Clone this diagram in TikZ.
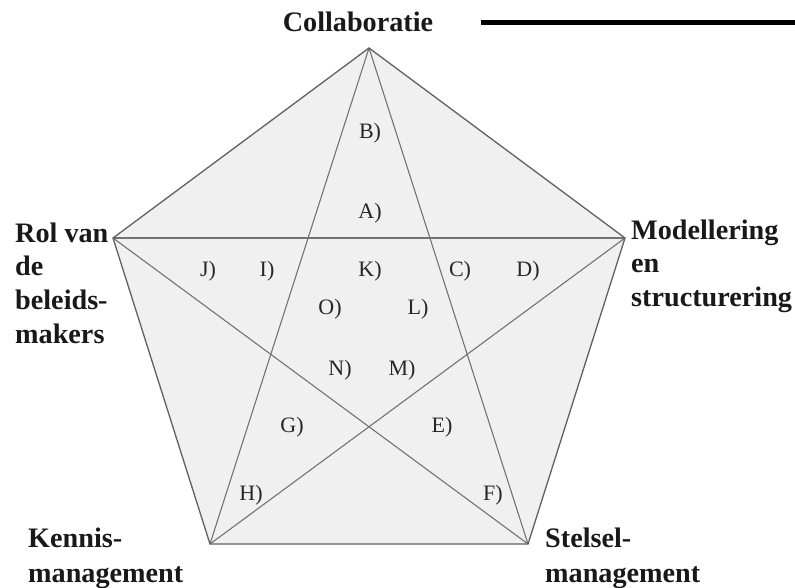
\documentclass[tikz,border=0pt]{standalone}
\usepackage{fontspec}
\setmainfont{Liberation Serif}
\begin{document}
\begin{tikzpicture}[x=1pt,y=-1pt,
  outer/.style={font=\fontsize{28.2}{34}\selectfont\bfseries,inner sep=0pt,text=black!90},
  inner/.style={font=\fontsize{22}{26}\selectfont,inner sep=0pt,anchor=base,text=black!85},
  edge/.style={draw=black!62,line width=1.3pt},
  star/.style={draw=black!55,line width=1.1pt}]
\useasboundingbox (0,0) rectangle (795,587);
\coordinate (T) at (369,48);
\coordinate (L) at (113,238);
\coordinate (R) at (625,238);
\coordinate (BL) at (210,544);
\coordinate (BR) at (528,544);
\coordinate (ls) at (481,22.5);
\coordinate (le) at (795,22.5);
\fill[black!6] (T) -- (R) -- (BR) -- (BL) -- (L) -- cycle;
\draw[star] (T) -- (BL);
\draw[star] (T) -- (BR);
\draw[star] (L) -- (R);
\draw[star] (L) -- (BR);
\draw[star] (R) -- (BL);
\draw[edge,line join=miter] (T) -- (R) -- (BR) -- (BL) -- (L) -- cycle;
\draw[line width=4.5pt] (ls) -- (le);
% outer labels
\node[outer,anchor=base] (collab) at (358,31) {Collaboratie};
\node[outer,anchor=base west] (rol1) at (15,242) {Rol van};
\node[outer,anchor=base west] (rol2) at (15,275) {de};
\node[outer,anchor=base west] (rol3) at (15,309) {beleids-};
\node[outer,anchor=base west] (rol4) at (15,343) {makers};
\node[outer,anchor=base west] (mod1) at (631,239) {Modellering};
\node[outer,anchor=base west] (mod2) at (631,272) {en};
\node[outer,anchor=base west] (mod3) at (631,306) {structurering};
\node[outer,anchor=base west] (ken1) at (28,547) {Kennis-};
\node[outer,anchor=base west] (ken2) at (28,582) {management};
\node[outer,anchor=base west] (ste1) at (545,547) {Stelsel-};
\node[outer,anchor=base west] (ste2) at (545,582) {management};
% inner labels
\node[inner] (B) at (370,138) {B)};
\node[inner] (A) at (370,218) {A)};
\node[inner] (J) at (208,276) {J)};
\node[inner] (I) at (267,276) {I)};
\node[inner] (K) at (370,276) {K)};
\node[inner] (C) at (460,276) {C)};
\node[inner] (D) at (528,276) {D)};
\node[inner] (O) at (330,314) {O)};
\node[inner] (Lb) at (418,314) {L)};
\node[inner] (N) at (340,375) {N)};
\node[inner] (M) at (402,375) {M)};
\node[inner] (G) at (292,432) {G)};
\node[inner] (E) at (442,432) {E)};
\node[inner] (H) at (251,500) {H)};
\node[inner] (F) at (493,500) {F)};
\end{tikzpicture}
\end{document}
